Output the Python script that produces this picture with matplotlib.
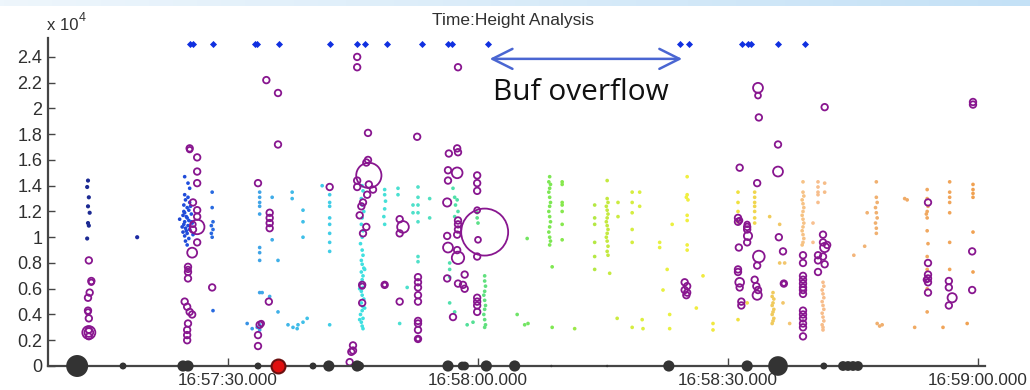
import numpy as np
import matplotlib
matplotlib.use('Agg')
import matplotlib.pyplot as plt
from matplotlib.colors import LinearSegmentedColormap, Normalize

# ---------------- data ----------------
# time: seconds after 16:57:00.000 ; height: units of 1e4
x_tick_seconds = [30, 60, 90, 120]
x_tick_labels = ['16:57:30.000', '16:58:00.000', '16:58:30.000', '16:59:00.000']
y_ticks = [0, 0.2, 0.4, 0.6, 0.8, 1.0, 1.2, 1.4, 1.6, 1.8, 2.0, 2.2, 2.4]
y_tick_labels = ['0', '0.2', '0.4', '0.6', '0.8', '1', '1.2', '1.4', '1.6', '1.8', '2', '2.2', '2.4']

navy_pts = [(13.2, 1.44), (13.1, 1.39), (13.3, 1.31), (13.2, 1.24), (13.4, 1.19), (13.2, 1.11),
            (13.3, 1.09), (13.1, 0.99), (19.1, 1.00)]

blue_pts = [(24.8, 1.47), (25.2, 1.42), (25.4, 1.38), (24.8, 1.33), (25.2, 1.31), (24.9, 1.29), (25.4, 1.27),
            (24.7, 1.25), (25.1, 1.23), (25.3, 1.21), (24.8, 1.19), (25.6, 1.18), (24.6, 1.17), (25.1, 1.15),
            (25.3, 1.13), (24.8, 1.12), (25.7, 1.11), (24.7, 1.10), (25.2, 1.09), (24.9, 1.07), (25.4, 1.06),
            (24.6, 1.04), (25.1, 1.03), (24.8, 1.01), (25.3, 0.99), (24.9, 0.97), (24.2, 1.14), (25.0, 1.16),
            (25.5, 1.24), (24.7, 1.20), (25.6, 1.12), (25.0, 1.05), (24.5, 1.08), (25.8, 1.02), (25.1, 0.94),
            (28.1, 1.35), (28.1, 1.23), (28.2, 1.12), (28.0, 1.09), (28.2, 1.06), (28.0, 1.03), (28.1, 1.00),
            (28.2, 0.43)]

ltblue_pts = [(33.8, 1.35), (33.8, 1.31), (33.8, 1.27), (33.8, 1.24), (33.8, 1.18), (33.8, 0.92), (33.8, 0.88),
              (33.8, 0.82), (33.8, 0.57), (33.8, 0.32), (33.8, 0.28), (35.3, 1.31), (35.3, 0.98), (36.0, 0.82),
              (36.0, 0.42), (34.1, 0.57), (35.0, 0.54), (32.3, 0.33), (32.9, 0.29), (33.5, 0.30), (37.2, 0.32),
              (37.8, 0.30), (38.3, 0.29), (38.4, 0.32), (39.0, 0.34), (39.5, 0.37), (42.2, 0.32), (37.7, 1.35),
              (37.7, 1.30), (39.0, 1.21), (39.0, 1.12), (39.0, 1.00), (42.2, 1.33), (42.2, 1.27), (42.2, 1.24),
              (42.2, 1.15), (42.2, 1.10), (42.2, 1.03), (42.2, 0.96), (42.2, 0.89), (41.3, 1.40)]

cyan_pts = [(46.1, 1.40), (46.2, 1.36), (46.0, 1.30), (46.1, 1.25), (46.3, 1.20), (46.1, 1.15), (46.0, 1.10),
            (46.2, 1.05), (46.1, 1.00), (45.9, 0.95), (46.1, 0.90), (46.2, 0.86), (46.0, 0.82), (46.1, 0.79),
            (46.3, 0.76), (46.0, 0.73), (46.2, 0.70), (46.1, 0.67), (45.9, 0.64), (46.2, 0.61), (46.0, 0.58),
            (46.1, 0.55), (46.3, 0.52), (46.0, 0.49), (46.2, 0.46), (46.1, 0.43), (45.9, 0.40), (46.2, 0.37),
            (46.0, 0.34), (46.1, 0.31), (46.2, 0.29), (46.4, 0.45), (45.8, 0.60), (46.4, 0.75), (45.8, 0.36),
            (48.8, 1.37), (48.8, 1.33), (48.9, 1.28), (48.8, 1.22), (48.7, 1.16), (48.8, 1.10),
            (50.4, 1.38), (50.4, 1.33), (52.8, 1.39), (52.8, 1.31), (52.8, 1.25), (52.8, 1.19), (52.8, 1.12),
            (52.8, 0.85), (52.8, 0.81), (52.2, 1.25), (52.2, 1.19), (54.2, 1.30), (54.2, 1.15), (51.5, 0.61),
            (50.6, 0.33), (57.0, 1.38), (57.2, 1.31), (57.5, 1.29), (57.3, 1.25), (57.6, 1.20), (57.2, 1.16),
            (56.6, 0.80), (56.6, 0.75), (56.6, 0.69), (56.6, 0.49), (57.2, 0.42), (58.7, 0.32), (59.4, 0.34)]

green_pts = [(60.8, 0.70), (60.8, 0.66), (60.9, 0.62), (60.8, 0.58), (60.7, 0.55), (60.8, 0.51), (60.9, 0.47),
             (60.8, 0.44), (60.7, 0.40), (60.8, 0.36), (60.9, 0.32), (60.8, 0.30), (59.9, 1.19), (59.9, 1.15),
             (60.0, 1.11), (68.6, 1.47), (68.5, 1.43), (68.7, 1.41), (68.6, 1.38), (68.5, 1.35), (68.6, 1.31),
             (68.7, 1.27), (68.6, 1.24), (68.5, 1.20), (68.6, 1.16), (68.7, 1.12), (68.6, 1.08), (68.5, 1.04),
             (68.6, 1.00), (68.7, 0.97), (68.6, 0.94), (68.9, 0.77), (70.1, 1.43), (70.1, 1.41), (70.1, 1.27),
             (70.1, 1.25), (70.1, 1.20), (70.1, 1.10), (70.1, 0.98), (65.9, 0.99), (64.7, 0.40), (65.6, 0.32),
             (66.0, 0.33), (68.9, 0.30), (71.6, 0.29)]

ygreen_pts = [(75.5, 1.44), (75.5, 1.30), (75.6, 1.27), (75.4, 1.24), (75.5, 1.21), (75.6, 1.18), (75.5, 1.15),
              (75.4, 1.12), (75.5, 1.09), (75.6, 1.06), (75.5, 1.03), (75.4, 1.00), (75.5, 0.97), (75.6, 0.93),
              (75.5, 0.89), (75.6, 0.86), (74.0, 1.25), (74.0, 1.15), (74.0, 1.10), (74.0, 0.96), (74.0, 0.85),
              (74.0, 0.75), (75.8, 0.72), (76.8, 1.27), (76.8, 1.16), (78.5, 1.35), (78.5, 1.27), (78.5, 1.19),
              (78.5, 1.06), (78.5, 0.96), (79.4, 1.35), (79.4, 1.24), (76.7, 0.37), (78.5, 0.30), (79.7, 0.36),
              (79.8, 0.29)]

yellow_pts = [(81.8, 0.96), (81.8, 0.92), (83.3, 1.10), (82.7, 0.75), (82.2, 0.59), (83.0, 0.40), (83.0, 0.29),
              (85.1, 1.47), (85.1, 1.33), (85.0, 1.31), (85.2, 1.29), (85.1, 1.17), (85.1, 1.13), (85.1, 0.94),
              (85.1, 0.90), (88.2, 0.33), (88.2, 0.28), (87.0, 0.70), (86.2, 0.45), (91.2, 1.35), (91.2, 1.27),
              (91.2, 1.20), (91.2, 1.12), (91.2, 0.36), (93.2, 1.35), (93.2, 1.31), (93.2, 1.27), (93.2, 1.24),
              (93.2, 1.20), (93.2, 1.15), (93.2, 1.11), (95.0, 1.16), (96.2, 1.10), (96.2, 0.80), (96.8, 0.80),
              (92.3, 0.49)]

orange_pts = [(95.4, 0.57), (95.3, 0.54), (95.5, 0.52), (95.4, 0.49), (95.3, 0.47), (95.5, 0.44), (95.4, 0.42),
              (95.3, 0.40), (95.5, 0.37), (95.4, 0.35), (95.3, 0.33), (96.6, 0.49), (97.4, 0.33),
              (99.0, 1.43), (99.0, 1.35), (99.1, 1.32), (98.9, 1.29), (99.0, 1.26), (99.1, 1.23), (99.0, 1.20),
              (98.9, 1.17), (99.0, 1.14), (99.1, 1.11), (99.0, 1.08), (98.9, 1.05), (99.0, 1.02), (99.1, 0.99),
              (99.0, 0.96), (98.9, 0.94), (100.2, 1.11), (100.2, 0.96), (100.8, 1.43), (100.8, 1.39),
              (100.8, 1.35), (100.8, 1.33), (100.8, 1.27), (101.6, 1.42), (101.6, 1.35),
              (101.4, 0.65), (101.5, 0.62), (101.3, 0.59), (101.4, 0.56), (101.5, 0.53), (101.3, 0.50),
              (101.4, 0.47), (101.5, 0.44), (101.3, 0.41), (101.4, 0.38), (101.5, 0.35), (101.3, 0.32),
              (101.4, 0.30), (101.4, 0.28), (105.1, 0.86), (106.4, 0.93), (106.7, 1.19),
              (107.8, 1.43), (107.8, 1.31), (107.9, 1.27), (107.7, 1.23), (107.8, 1.19), (107.9, 1.15),
              (107.7, 1.11), (107.8, 1.07), (107.8, 1.03), (107.9, 0.33), (108.2, 0.31), (108.5, 0.32),
              (111.2, 1.30), (111.5, 1.29), (112.4, 0.30), (113.9, 1.37), (113.9, 1.30), (114.0, 1.24),
              (113.9, 1.20), (113.8, 1.18), (113.9, 1.15), (113.9, 1.05), (114.0, 0.95), (113.9, 0.85),
              (113.9, 0.75), (113.9, 0.60), (113.9, 0.42), (115.8, 0.30), (116.6, 1.43), (116.6, 1.35),
              (116.6, 1.31), (116.6, 1.27), (116.6, 1.19), (116.6, 0.96), (116.6, 0.75), (118.7, 0.33),
              (119.4, 1.41), (119.4, 1.37), (119.4, 1.34), (119.4, 1.31), (119.4, 1.04), (119.4, 0.73)]

# purple circles: (time, height, relative amplitude)
circ_a = [(13.3, 0.82, 1), (13.6, 0.66, 1), (13.6, 0.65, 0.7), (13.4, 0.57, 1), (13.2, 0.53, 1), (13.2, 0.43, 1),
          (13.2, 0.42, 0.7), (13.3, 0.37, 1), (13.3, 0.26, 4), (13.3, 0.26, 1.8), (13.3, 0.28, 0.9),
          (13.3, 0.23, 0.9)]
circ_b = [(25.4, 1.69, 1), (25.4, 1.68, 0.7), (26.3, 1.62, 1), (26.3, 1.51, 1), (26.3, 1.42, 1), (25.8, 1.27, 1),
          (26.3, 1.21, 1), (26.3, 1.16, 1), (26.3, 1.08, 5), (25.8, 1.06, 1), (25.8, 1.10, 0.7), (26.3, 0.96, 1),
          (25.7, 0.88, 2.3), (25.2, 0.77, 1), (25.2, 0.73, 1), (25.2, 0.75, 0.7), (25.2, 0.68, 1), (24.8, 0.50, 1),
          (25.1, 0.46, 1), (25.4, 0.42, 1), (25.7, 0.40, 1), (25.2, 0.33, 1), (25.1, 0.28, 1), (25.1, 0.24, 1),
          (25.1, 0.20, 1), (28.1, 0.61, 1)]
circ_c = [(34.6, 2.22, 1), (36.0, 2.12, 1), (36.0, 1.72, 1), (33.6, 1.42, 1), (35.0, 1.19, 1), (35.0, 1.15, 1),
          (35.0, 1.11, 1), (35.0, 1.07, 1), (34.9, 0.50, 1), (33.8, 0.32, 1), (34.0, 0.33, 0.7), (33.6, 0.24, 1),
          (33.6, 0.155, 1), (42.2, 1.39, 1)]
circ_d = [(45.5, 2.40, 1), (45.5, 2.32, 1), (46.8, 1.81, 1), (52.7, 1.78, 1), (46.9, 1.48, 15), (46.6, 1.58, 1),
          (46.8, 1.60, 1), (45.5, 1.44, 1), (45.5, 1.39, 1), (46.9, 1.41, 1), (47.4, 1.37, 1), (46.7, 1.33, 1),
          (46.2, 1.27, 1), (46.0, 1.24, 1), (45.8, 1.17, 1), (46.6, 1.08, 1), (46.2, 1.03, 1), (46.1, 0.63, 1),
          (46.1, 0.62, 0.7), (46.1, 0.49, 1), (45.0, 0.16, 1), (45.0, 0.12, 1), (44.8, 0.11, 1), (44.6, 0.03, 1),
          (48.8, 0.63, 1), (48.8, 0.63, 0.5), (50.6, 1.14, 1), (51.0, 1.08, 3.2), (50.6, 1.03, 1), (50.6, 0.50, 1),
          (52.8, 0.69, 1), (52.8, 0.65, 1), (52.8, 0.61, 1), (52.8, 0.55, 1), (52.8, 0.50, 1), (52.8, 0.35, 1),
          (52.8, 0.33, 1), (52.8, 0.28, 1), (52.8, 0.21, 1), (52.8, 0.21, 0.5)]
circ_e = [(57.6, 2.32, 1), (56.5, 1.65, 1), (57.5, 1.69, 1), (57.6, 1.66, 1), (56.4, 1.52, 1), (57.5, 1.50, 2.7),
          (56.4, 1.44, 1), (56.3, 1.27, 1.6), (57.6, 1.13, 1), (57.6, 1.10, 1), (57.6, 1.06, 1), (57.5, 1.02, 1),
          (56.3, 1.01, 1), (56.4, 0.92, 2.3), (57.5, 0.90, 1), (57.6, 0.84, 3.6), (56.3, 0.68, 1), (58.4, 0.71, 1),
          (57.6, 0.64, 1), (58.2, 0.63, 1), (58.4, 0.60, 1), (57.0, 0.38, 1), (59.9, 1.48, 1), (59.9, 1.42, 1),
          (59.9, 1.36, 1), (59.9, 1.21, 0.8), (59.9, 0.85, 1), (60.0, 0.98, 0.8), (60.8, 1.04, 52),
          (59.9, 0.53, 1), (59.9, 0.50, 1), (59.9, 0.47, 1), (59.9, 0.42, 1), (84.8, 0.65, 1), (85.1, 0.62, 1),
          (84.8, 0.59, 1), (85.1, 0.57, 1), (85.0, 0.55, 1)]
circ_f = [(93.6, 2.16, 2.3), (93.6, 2.10, 0.8), (93.7, 1.93, 1), (96.0, 1.72, 1), (91.4, 1.54, 1), (96.0, 1.51, 2.3),
          (93.5, 1.42, 1), (91.2, 1.15, 1), (91.2, 1.12, 1), (91.4, 1.13, 0.7), (92.3, 1.08, 1), (92.3, 1.10, 0.7),
          (92.3, 1.06, 1), (92.4, 1.01, 1.6), (92.3, 0.96, 1), (91.3, 0.92, 1), (93.7, 0.85, 3.2), (93.5, 0.78, 1),
          (96.1, 1.00, 1), (96.6, 0.89, 1), (91.2, 0.75, 1), (91.2, 0.73, 1), (91.4, 0.65, 1.8), (91.4, 0.61, 1),
          (93.2, 0.67, 1), (93.4, 0.62, 1), (93.6, 0.59, 1), (93.5, 0.55, 2), (91.6, 0.50, 1), (91.6, 0.47, 1),
          (96.7, 0.64, 1), (96.7, 0.64, 0.5)]
circ_g = [(99.0, 0.86, 1), (99.0, 0.80, 1), (99.0, 0.70, 1), (99.0, 0.67, 1), (99.0, 0.64, 1), (99.0, 0.61, 1),
          (99.0, 0.59, 1), (99.0, 0.56, 1), (99.0, 0.43, 1), (99.0, 0.40, 1), (99.0, 0.37, 1), (99.0, 0.33, 1),
          (99.0, 0.30, 1), (99.0, 0.23, 1), (101.4, 1.02, 1), (101.4, 0.96, 1), (101.6, 0.92, 2), (101.9, 0.94, 1),
          (100.8, 0.86, 1), (100.8, 0.82, 1), (101.4, 0.85, 1), (101.6, 0.79, 1), (100.8, 0.73, 1),
          (101.6, 2.01, 1), (119.4, 2.05, 1), (119.4, 2.03, 1), (114.0, 1.27, 1), (114.0, 0.80, 1),
          (114.0, 0.71, 1), (114.0, 0.68, 1), (114.0, 0.65, 1), (113.8, 0.67, 0.7), (114.0, 0.57, 1),
          (116.5, 0.66, 1), (116.5, 0.61, 1), (116.9, 0.53, 2), (116.5, 0.47, 1), (119.3, 0.89, 1),
          (119.3, 0.59, 1)]

# buffer-overflow markers
overflow_t = [25.5, 25.8, 28.2, 33.2, 33.5, 36.1, 42.2, 45.5, 46.4, 49.1, 53.3, 56.4, 56.9, 61.2,
              84.2, 85.3, 91.7, 92.4, 92.8, 96.0, 99.2]
overflow_level = 2.5

# events on the time axis: (time, relative amplitude)
event_t = [11.9, 17.4, 24.6, 25.2, 33.6, 40.2, 42.1, 45.5, 45.8, 56.4, 58.1, 58.4, 61.0, 64.4, 68.8, 75.5,
           82.9, 92.3, 96.0, 101.5, 103.8, 104.4, 105.0, 105.6]
event_amp = [10, 1, 2.6, 2.6, 1, 1, 2.6, 2.6, 1.6, 2.6, 1.6, 1.6, 2.6, 2.6, 0.12, 0.12,
             2.6, 2.6, 8, 1, 2, 2, 2, 2]
alarm_t = [36.0]
alarm_amp = [4]

# ---------------- plot ----------------
plt.rcParams['font.family'] = ['Liberation Sans', 'DejaVu Sans']

fig = plt.figure(figsize=(10.3, 3.9), dpi=100)
fig.patch.set_facecolor('white')

# faint slide band at the top
band = fig.add_axes([0, 1 - 6 / 390, 1, 6 / 390])
band_cmap = LinearSegmentedColormap.from_list('band', ['#EEF6FC', '#C4E1F6'])
band.imshow(np.linspace(0, 1, 256)[None, :], aspect='auto', cmap=band_cmap, extent=(0, 1, 0, 1))
band.axis('off')

ax = fig.add_axes([48 / 1030, 24 / 390, 937 / 1030, 328 / 390])
ax.set_xlim(8.4, 120.84)
ax.set_ylim(0, 2.547)

time_cmap = LinearSegmentedColormap.from_list('timecol', [
    (0.00, '#1C2A8C'), (0.08, '#1C2AA0'), (0.14, '#2050E0'), (0.17, '#2A70E0'),
    (0.22, '#40A8E8'), (0.28, '#40C8E8'), (0.33, '#40E0E0'), (0.39, '#50E0C8'),
    (0.44, '#50E0A0'), (0.46, '#60E080'), (0.54, '#80E850'), (0.59, '#C0E840'),
    (0.64, '#E0F040'), (0.68, '#F0F040'), (0.74, '#F0E040'), (0.78, '#F0C860'),
    (0.82, '#F8C090'), (0.89, '#F0B070'), (1.00, '#F0A050')])
tnorm = Normalize(10, 120)

groups = [navy_pts, blue_pts, ltblue_pts, cyan_pts, green_pts, ygreen_pts, yellow_pts, orange_pts]
for g in groups:
    arr = np.array(g)
    sz = 9 if g is navy_pts else 7
    ax.scatter(arr[:, 0], arr[:, 1], c=time_cmap(tnorm(arr[:, 0])), s=sz, marker='o',
               linewidths=0, zorder=2)

circ = np.array(circ_a + circ_b + circ_c + circ_d + circ_e + circ_f + circ_g)
ax.scatter(circ[:, 0], circ[:, 1], s=circ[:, 2] * 22, facecolors='none', edgecolors='#88168F',
           linewidths=1.3, zorder=3)

ax.scatter(overflow_t, [overflow_level] * len(overflow_t), marker='D', s=13, color='#1030E0',
           linewidths=0, zorder=4)

ax.scatter(event_t, [0] * len(event_t), s=np.array(event_amp) * 25, color='#333333', linewidths=0,
           zorder=5, clip_on=False)
ax.scatter(alarm_t, [0] * len(alarm_t), s=np.array(alarm_amp) * 25, color='#E01010', edgecolors='#6A1010',
           linewidths=1.5, zorder=6, clip_on=False)

for side in ['top', 'right']:
    ax.spines[side].set_visible(False)
for side in ['left', 'bottom']:
    ax.spines[side].set_color('#454545')
    ax.spines[side].set_linewidth(1.6)
ax.spines['bottom'].set_zorder(4)

ax.set_xticks(x_tick_seconds)
ax.set_xticklabels(x_tick_labels)
ax.set_yticks(y_ticks)
ax.set_yticklabels(y_tick_labels)
ax.tick_params(axis='both', direction='in', colors='#454545', labelcolor='#303030')
ax.tick_params(axis='y', length=5, width=1, pad=4, labelsize=13)
ax.tick_params(axis='x', length=6, width=1, pad=5, labelsize=12.3)

fig.text(513 / 1030, 1 - 25 / 390, 'Time:Height Analysis', ha='center', va='baseline',
         fontsize=12.5, color='#303030')
fig.text(47 / 1030, 1 - 30 / 390, 'x 10', ha='left', va='baseline', fontsize=12, color='#303030')
fig.text(79 / 1030, 1 - 21 / 390, '4', ha='left', va='baseline', fontsize=9, color='#303030')

ax.annotate('', xy=(84.5, 2.385), xytext=(61.4, 2.385),
            arrowprops=dict(arrowstyle='<->', color='#4A66D2', lw=1.8, mutation_scale=36,
                            shrinkA=0, shrinkB=0), zorder=7)
ax.text(61.8, 2.066, 'Buf overflow', ha='left', va='baseline', fontsize=21.5,
        family=['Open Sans', 'DejaVu Sans'], color='#111111', zorder=7)

fig.savefig('out.png', dpi=100, facecolor='white')
